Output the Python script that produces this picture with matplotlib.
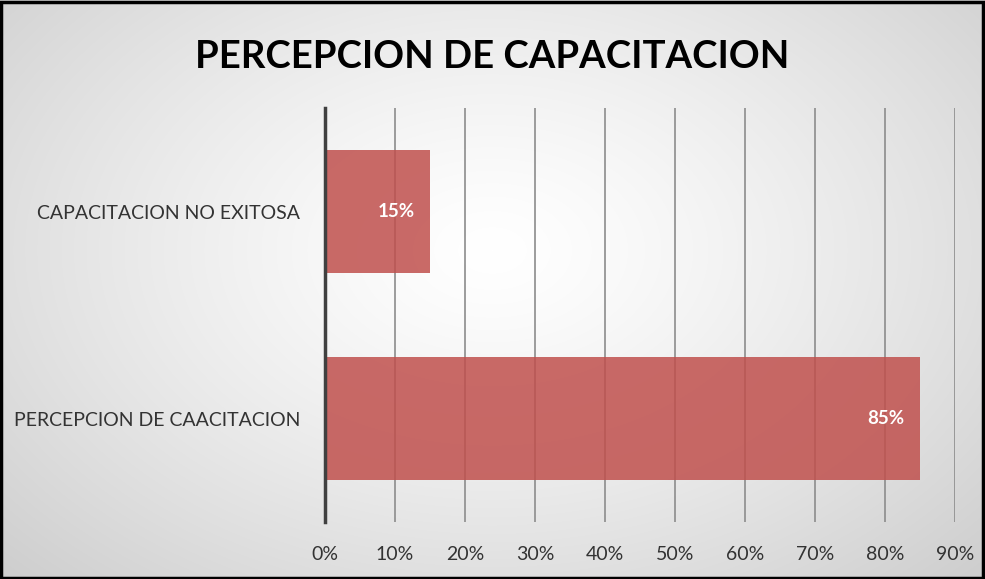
import numpy as np
import matplotlib
matplotlib.use("Agg")
import matplotlib.pyplot as plt
from matplotlib.patches import Rectangle

categories = ["PERCEPCION DE CAACITACION", "CAPACITACION NO EXITOSA"]
values = [0.85, 0.15]
value_labels = ["85%", "15%"]
xticks = np.arange(0, 1.0, 0.1)

plt.rcParams['font.family'] = ['Lato', 'DejaVu Sans']

fig = plt.figure(figsize=(9.85, 5.79), dpi=100)

# radial gradient background
bg = fig.add_axes([0, 0, 1, 1], zorder=0)
yy, xx = np.mgrid[0:579, 0:985]
r = np.sqrt(((xx - 492) / 620.0) ** 2 + ((yy - 250) / 420.0) ** 2)
shade = np.clip(1.0 - 0.17 * r ** 1.3, 0, 1)
bg.imshow(np.dstack([shade, shade, shade]), aspect='auto', extent=[0, 1, 0, 1])
bg.axis('off')
fig.patches.append(Rectangle((0.001, 0.002), 0.997, 0.995, transform=fig.transFigure,
                             fill=False, edgecolor='black', linewidth=2.5, zorder=10))

ax = fig.add_axes([0.33, 0.0984, 0.6395, 0.715], zorder=1)
ax.patch.set_alpha(0)
y = np.arange(len(categories))
ax.barh(y, values, height=0.59, color='#C0504D', alpha=0.85, zorder=2)
for yi, v, lab in zip(y, values, value_labels):
    ax.text(v - 0.022, yi, lab, ha='right', va='center', color='white',
            fontsize=13.5, fontweight='bold', zorder=3)

ax.set_xlim(0, 0.9)
ax.set_ylim(-0.5, 1.5)
ax.set_xticks(xticks)
ax.set_xticklabels([f"{int(round(t * 100))}%" for t in xticks], fontsize=14, color='#333333')
ax.set_yticks(y)
ax.set_yticklabels(categories, fontsize=14, color='#333333')
ax.tick_params(length=0)
ax.tick_params(axis='x', pad=17)
ax.tick_params(axis='y', pad=18)
ax.grid(axis='x', color='#8c8c8c', linewidth=1.2, zorder=1)
ax.set_axisbelow(True)
for s in ['top', 'right', 'bottom']:
    ax.spines[s].set_visible(False)
ax.spines['left'].set_color('#404040')
ax.spines['left'].set_linewidth(2.5)
ax.spines['left'].set_zorder(4)

fig.text(0.5, 0.902, "PERCEPCION DE CAPACITACION", ha='center', va='center',
         fontsize=27.5, fontweight='bold', color='black')

fig.savefig("out.png", dpi=100)
